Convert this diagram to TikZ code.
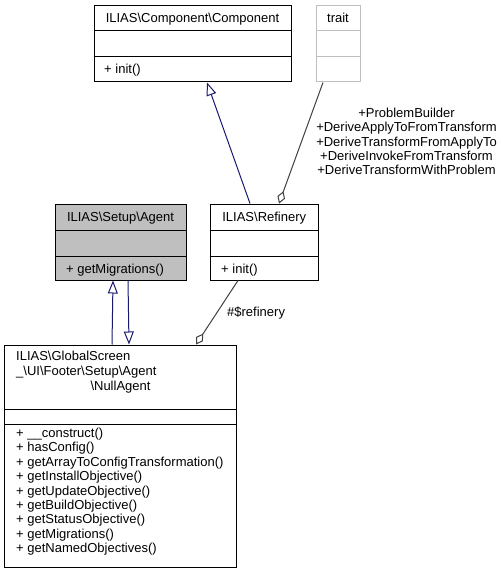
\documentclass[tikz,border=0pt]{standalone}
\usepackage{fontspec}
\setmainfont{Liberation Sans}
\usetikzlibrary{arrows.meta}
\definecolor{navy}{HTML}{191970}
\definecolor{edgegrey}{HTML}{404040}
\definecolor{boxgrey}{HTML}{BFBFBF}
\begin{document}
\begin{tikzpicture}[x=1bp,y=-1bp]
\tikzset{
 cls/.style={draw=black, line width=1bp, rectangle, inner sep=0pt},
 sepline/.style={draw=black, line width=1bp},
 lbl/.style={font=\fontsize{13bp}{14.4bp}\selectfont, inner sep=0pt, anchor=base},
 lblw/.style={lbl, anchor=base west},
 inh/.style={draw=navy, line width=1bp, -{Triangle[open, length=13bp, width=10bp]}},
 agg/.style={draw=edgegrey, line width=1bp, -{Diamond[open, length=13bp, width=8bp]}},
}
\useasboundingbox (0,0) rectangle (503,573);

% Component
\node[cls, minimum width=197bp, minimum height=76bp] (comp) at (192.5,44) {};
\draw[sepline] (comp.west |- 0,31) -- (comp.east |- 0,31);
\draw[sepline] (comp.west |- 0,57) -- (comp.east |- 0,57);
\node[lbl] (compt) at (192.5,23) {ILIAS\textbackslash Component\textbackslash Component};
\node[lblw] (compm) at (104,74) {+ init()};

% trait
\node[cls, draw=boxgrey, minimum width=44bp, minimum height=76bp] (trait) at (338,44) {};
\draw[sepline, draw=boxgrey] (trait.west |- 0,31) -- (trait.east |- 0,31);
\draw[sepline, draw=boxgrey] (trait.west |- 0,57) -- (trait.east |- 0,57);
\node[lbl] (traitt) at (338,23) {trait};

% Agent
\node[cls, fill=boxgrey, minimum width=131bp, minimum height=76bp] (agent) at (120.5,242) {};
\draw[sepline] (agent.west |- 0,230) -- (agent.east |- 0,230);
\draw[sepline] (agent.west |- 0,256) -- (agent.east |- 0,256);
\node[lbl] (agentt) at (120.5,221) {ILIAS\textbackslash Setup\textbackslash Agent};
\node[lblw] (agentm) at (66,273) {+ getMigrations()};

% Refinery
\node[cls, minimum width=108.5bp, minimum height=76bp] (ref) at (264.25,242) {};
\draw[sepline] (ref.west |- 0,230) -- (ref.east |- 0,230);
\draw[sepline] (ref.west |- 0,256) -- (ref.east |- 0,256);
\node[lbl] (reft) at (264.25,221) {ILIAS\textbackslash Refinery};
\node[lblw] (refm) at (221,273) {+ init()};

% NullAgent
\node[cls, minimum width=231bp, minimum height=222bp] (null) at (120.5,456) {};
\draw[sepline] (null.west |- 0,409) -- (null.east |- 0,409);
\draw[sepline] (null.west |- 0,424) -- (null.east |- 0,424);
\node[lblw] (nullt1) at (16,360.7) {ILIAS\textbackslash GlobalScreen};
\node[lblw] (nullt2) at (16,375.4) {\_\textbackslash UI\textbackslash Footer\textbackslash Setup\textbackslash Agent};
\node[lbl] (nullt3) at (120.5,390) {\textbackslash NullAgent};
\foreach \t [count=\i from 0] in {{+ \_\_construct()},{+ hasConfig()},{+ getArrayToConfigTransformation()},{+ getInstallObjective()},{+ getUpdateObjective()},{+ getBuildObjective()},{+ getStatusObjective()},{+ getMigrations()},{+ getNamedObjectives()}}
  \node[lblw] (nullm\i) at (16,{437.5+14.4*\i}) {\t};

% trait label
\foreach \t [count=\i from 0] in {{+ProblemBuilder},{+DeriveApplyToFromTransform},{+DeriveTransformFromApplyTo},{+DeriveInvokeFromTransform},{+DeriveTransformWithProblem}}
  \node[lbl] (traitl\i) at (406.5,{117.7+14.2*\i}) {\t};

% edges
\draw[inh] (ref.north -| 250,0) -- (comp.south -| 207,0);
\draw[agg] (trait.south -| 323,0) -- (ref.north -| 279,0);
\draw[inh] (null.north -| 112,0) -- (agent.south -| 113,0);
\draw[inh] (agent.south -| 128,0) -- (null.north -| 129,0);
\draw[agg] (ref.south -| 238,0) -- (null.north -| 196,0);
\node[lblw] (refl) at (227,316) {\#\$refinery};
\end{tikzpicture}
\end{document}
